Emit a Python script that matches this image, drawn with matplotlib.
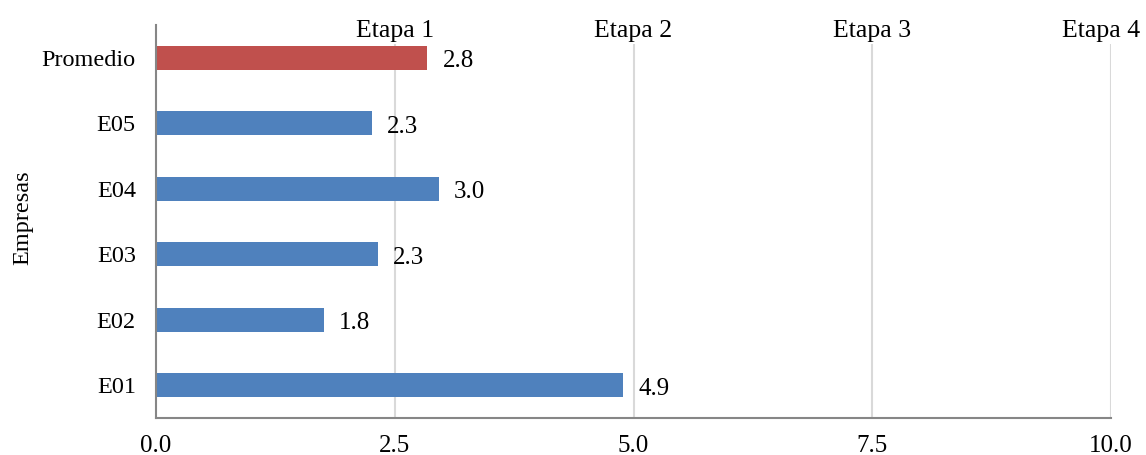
import matplotlib.pyplot as plt
import matplotlib.transforms as mtransforms

# puntaje por empresa y promedio general
empresas = ['E01', 'E02', 'E03', 'E04', 'E05', 'Promedio']
puntajes = [4.89, 1.76, 2.32, 2.96, 2.26, 2.84]
colores = ['#4F81BD'] * 5 + ['#C0504D']

etapas = ['Etapa 1', 'Etapa 2', 'Etapa 3', 'Etapa 4']
limites_etapa = [2.5, 5.0, 7.5, 10.0]
x_ticks = [0.0, 2.5, 5.0, 7.5, 10.0]

plt.rcParams['font.family'] = ['Liberation Serif', 'DejaVu Serif']

fig = plt.figure(figsize=(11.46, 4.55), dpi=100)
ax = fig.add_axes([0.1361, 0.0813, 0.8334, 0.8637])

y = range(len(empresas))
ax.barh(y, puntajes, height=0.365, color=colores, zorder=2)

for yi, v in zip(y, puntajes):
    ax.annotate(f'{v:.1f}', (v, yi), xytext=(11, -2.5), textcoords='offset points',
                ha='left', va='center', fontsize=18)

ax.set_xlim(0, 10)
ax.set_ylim(-0.5, len(empresas) - 0.5)
ax.set_yticks(list(y))
ax.set_yticklabels(empresas, fontsize=17.5)
ax.set_xticks(x_ticks)
ax.set_xticklabels([f'{t:.1f}' for t in x_ticks], fontsize=18)
ax.tick_params(length=0)
ax.tick_params(axis='x', pad=12)
ax.tick_params(axis='y', pad=14.5)

for s in ['top', 'right']:
    ax.spines[s].set_visible(False)
for s in ['left', 'bottom']:
    ax.spines[s].set_color('#868686')
    ax.spines[s].set_linewidth(1.5)

# lineas de cada etapa
for xe in limites_etapa:
    ax.axvline(xe, color='#D9D9D9', linewidth=1.5, zorder=1)

# la ultima etiqueta se corre a la izquierda para que quepa en la figura
trans = mtransforms.blended_transform_factory(ax.transData, ax.transAxes)
for i, (nombre, xe) in enumerate(zip(etapas, limites_etapa)):
    dx = -7 if i == len(etapas) - 1 else 0
    ax.annotate(nombre, (xe, 0.984), xycoords=trans, xytext=(dx, 0),
                textcoords='offset points', ha='center', va='center',
                fontsize=18.5, zorder=4,
                bbox=dict(facecolor='white', edgecolor='none', pad=1.5))

ax.set_ylabel('Empresas', fontsize=17.5)
ax.yaxis.set_label_coords(-0.128, 0.51)

fig.savefig('out.png', dpi=100)
